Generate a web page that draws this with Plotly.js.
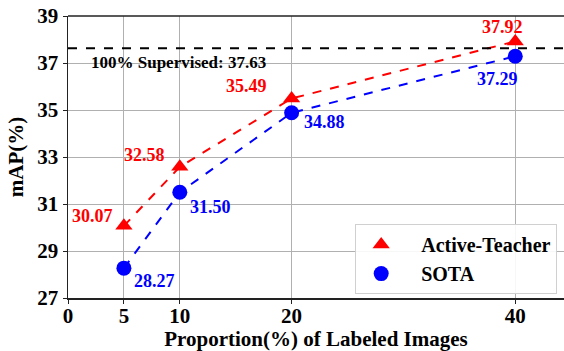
<!DOCTYPE html>
<html><head><meta charset="utf-8">
<script src="https://cdn.plot.ly/plotly-3.0.1.min.js"></script>
<style>html,body{margin:0;padding:0;background:#fff}#c{width:564px;height:351px}</style>
</head><body><div id="c"></div>
<script>
const proportions = [5, 10, 20, 40];
const activeTeacher = [30.07, 32.58, 35.49, 37.92];
const sota = [28.27, 31.50, 34.88, 37.29];
const supervised = 37.63;
const xTicks = [0, 5, 10, 20, 40];
const yTicks = [27, 29, 31, 33, 35, 37, 39];
const seriesNames = ['Active-Teacher', 'SOTA'];

const FONT = 'Liberation Serif';
const redShift = [[-31, 10], [-35, 12], [-45, 12], [-13, 14]];
const blueShift = [[31, -13], [31, -15], [33, -9], [-18, -23]];

const traces = [
  {x: proportions, y: sota, mode: 'lines', line: {color: '#0000ff', dash: 'dash', width: 2}, showlegend: false, hoverinfo: 'skip'},
  {x: proportions, y: activeTeacher, mode: 'lines', line: {color: '#ff0000', dash: 'dash', width: 2}, showlegend: false, hoverinfo: 'skip'},
  {x: proportions, y: activeTeacher, mode: 'markers', name: '&nbsp;&nbsp;&nbsp;<b>' + seriesNames[0] + '</b>', marker: {symbol: 'triangle-up', size: 15, color: '#ff0000'}},
  {x: proportions, y: sota, mode: 'markers', name: '&nbsp;&nbsp;&nbsp;<b>' + seriesNames[1] + '</b>', marker: {symbol: 'circle', size: 15, color: '#0000ff'}}
];

const annotations = [];
proportions.forEach((p, i) => {
  annotations.push({x: p, y: activeTeacher[i], xref: 'x', yref: 'y', text: '<b>' + activeTeacher[i].toFixed(2) + '</b>', showarrow: false,
    xshift: redShift[i][0], yshift: redShift[i][1], font: {family: FONT, size: 18, color: '#ff0000'}});
  annotations.push({x: p, y: sota[i], xref: 'x', yref: 'y', text: '<b>' + sota[i].toFixed(2) + '</b>', showarrow: false,
    xshift: blueShift[i][0], yshift: blueShift[i][1], font: {family: FONT, size: 18, color: '#0000ff'}});
});
annotations.push({x: 0, y: supervised, xref: 'paper', yref: 'y', xanchor: 'left', yanchor: 'top', xshift: 21, yshift: -3,
  text: '<b>100% Supervised: ' + supervised.toFixed(2) + '</b>', showarrow: false, font: {family: FONT, size: 17, color: '#000'}});

const layout = {
  width: 564, height: 351,
  margin: {l: 68, r: 0, t: 16, b: 53},
  paper_bgcolor: '#fff', plot_bgcolor: '#fff',
  font: {family: FONT, size: 18, color: '#000'},
  xaxis: {range: [0, 44.36], tickvals: xTicks, ticktext: xTicks.map(v => '<b>' + v + '</b>'), showgrid: true, gridcolor: '#b0b0b0', gridwidth: 1,
    zeroline: false, showline: true, linecolor: '#222', linewidth: 1.5, mirror: false, ticks: 'outside', ticklen: 4, tickcolor: '#222',
    tickfont: {family: FONT, size: 21}, ticklabelstandoff: -6,
    title: {text: '<b>Proportion(%) of Labeled Images</b>', font: {family: FONT, size: 21}, standoff: 4}},
  yaxis: {range: [27, 39], tickvals: yTicks, ticktext: yTicks.map(v => '<b>' + v + '</b>'), showgrid: true, gridcolor: '#b0b0b0', gridwidth: 1,
    zeroline: false, showline: true, linecolor: '#222', linewidth: 1.5, ticks: 'outside', ticklen: 4, tickcolor: '#222',
    tickfont: {family: FONT, size: 21},
    title: {text: '<b>mAP(%)</b>', font: {family: FONT, size: 21}, standoff: 8}},
  shapes: [
    {type: 'line', xref: 'paper', yref: 'y', x0: 0, x1: 1, y0: supervised, y1: supervised, line: {color: '#000', width: 2, dash: 'dash'}},
    {type: 'line', xref: 'paper', yref: 'paper', x0: 0, x1: 1, y0: 1, y1: 1, line: {color: '#222', width: 1.5}}
  ],
  legend: {x: 0.579, y: 0.262, xanchor: 'left', yanchor: 'top', bgcolor: 'rgba(255,255,255,0.9)', bordercolor: '#d0d0d0', borderwidth: 1,
    font: {family: FONT, size: 20}, itemwidth: 40, tracegroupgap: 4},
  annotations: annotations,
  showlegend: true
};
Plotly.newPlot('c', traces, layout, {displayModeBar: false, staticPlot: true});
</script></body></html>
